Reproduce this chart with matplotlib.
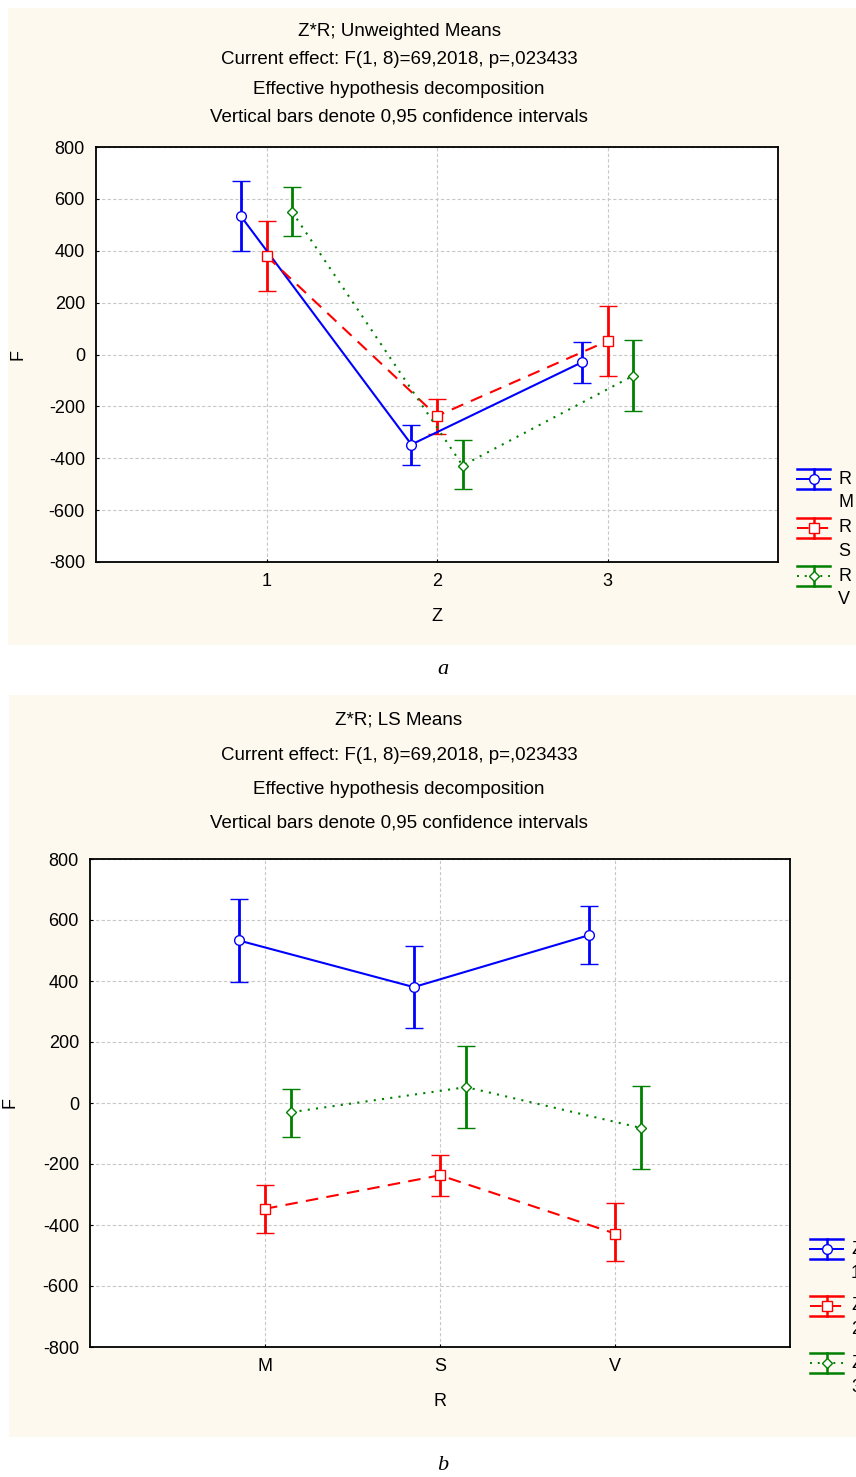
import numpy as np
import matplotlib.pyplot as plt
from matplotlib.patches import Rectangle
from matplotlib.lines import Line2D

plt.rcParams['font.family'] = ['Liberation Sans', 'DejaVu Sans']
plt.rcParams['axes.unicode_minus'] = False

# means and 95% CI bounds, rows = R (M, S, V), cols = Z (1, 2, 3)
r_levels = ['M', 'S', 'V']
z_levels = ['1', '2', '3']
mean_M = [533, -347, -30]
mean_S = [380, -237, 52]
mean_V = [550, -428, -82]
lo_M = [398, -427, -110]
lo_S = [245, -305, -83]
lo_V = [455, -518, -218]
hi_M = [668, -270, 47]
hi_S = [515, -170, 187]
hi_V = [647, -328, 55]

means = np.array([mean_M, mean_S, mean_V])
lows = np.array([lo_M, lo_S, lo_V])
highs = np.array([hi_M, hi_S, hi_V])

colors = ['#0000ff', '#ff0000', '#008000']
styles = ['-', (0, (6, 4)), (0, (1, 3))]
markers = ['o', 's', 'D']
msizes = [7, 7, 5]
offsets = [-0.15, 0.0, 0.15]
bg = '#fdf9ee'

W, H = 856, 1477
fig = plt.figure(figsize=(W / 100, H / 100), dpi=100)


def fx(px):
    return px / W


def fy(py):
    return 1 - py / H


# panel backgrounds
fig.patches.append(Rectangle((fx(8), fy(645)), fx(848), 637 / H, transform=fig.transFigure,
                             facecolor=bg, edgecolor='none', zorder=-5))
fig.patches.append(Rectangle((fx(9), fy(1437)), fx(847), 742 / H, transform=fig.transFigure,
                             facecolor=bg, edgecolor='none', zorder=-5))


def panel(rect, m, lo, hi, ticklabels, xlabel, titles, title_y, leg_x, leg_y, leg_dy, leg_labels,
          ylabel_x):
    ax = fig.add_axes(rect)
    ax.set_zorder(2)
    x = np.arange(1, 4)
    for i in range(3):
        xs = x + offsets[i]
        ax.errorbar(xs, m[i], yerr=[m[i] - lo[i], hi[i] - m[i]], color=colors[i],
                    linestyle=styles[i], linewidth=1.5, elinewidth=2, capsize=6.5, capthick=2,
                    marker=markers[i], markersize=msizes[i], markerfacecolor='white',
                    markeredgecolor=colors[i], markeredgewidth=1.0, zorder=3)
    ax.set_xlim(0, 4)
    ax.set_ylim(-800, 800)
    ax.set_xticks(x)
    ax.set_xticklabels(ticklabels)
    ax.set_yticks(np.arange(-800, 801, 200))
    ax.grid(True, color='#c8c8c8', linestyle=(0, (3, 2)), linewidth=0.8)
    ax.tick_params(direction='in', length=2, labelsize=13, pad=8)
    for s in ax.spines.values():
        s.set_linewidth(1.3)
    ax.set_xlabel(xlabel, fontsize=13, labelpad=13)
    ax.set_ylabel('F', fontsize=13)
    ax.yaxis.set_label_coords(fx(ylabel_x), 0.5, transform=fig.transFigure)
    for t, ty in zip(titles, title_y):
        fig.text(fx(399), fy(ty), t, ha='center', va='center', fontsize=13.5)
    # legend drawn as error-bar glyphs
    for i in range(3):
        cy = leg_y + i * leg_dy
        x0, x1 = leg_x, leg_x + 33
        xm = (x0 + x1) / 2
        for dy in (-10, 10):
            fig.add_artist(Line2D([fx(x0), fx(x1)], [fy(cy + dy), fy(cy + dy)], color=colors[i],
                                  linewidth=1.8))
        fig.add_artist(Line2D([fx(xm), fx(xm)], [fy(cy - 10), fy(cy + 10)], color=colors[i],
                              linewidth=1.8))
        fig.add_artist(Line2D([fx(x0), fx(x1)], [fy(cy), fy(cy)], color=colors[i],
                              linestyle=styles[i], linewidth=1.4))
        fig.add_artist(Line2D([fx(xm)], [fy(cy)], color=colors[i], marker=markers[i],
                              markersize=msizes[i], markerfacecolor='white', linestyle='none'))
        fig.text(fx(x1 + 8), fy(cy), leg_labels[i][0], ha='left', va='center', fontsize=13)
        fig.text(fx(x1 + 8), fy(cy + 24), leg_labels[i][1], ha='left', va='center', fontsize=13)
    return ax


ax_a = panel([fx(96), fy(562), (778 - 96) / W, (562 - 147) / H], means, lows, highs, z_levels, 'Z',
             ['Z*R; Unweighted Means', 'Current effect: F(1, 8)=69,2018, p=,023433',
              'Effective hypothesis decomposition', 'Vertical bars denote 0,95 confidence intervals'],
             [31, 60, 89, 117], 797, 479, 48.5, [('R', l) for l in r_levels], 26)
ax_a.yaxis.set_label_coords(fx(26), fy(354), transform=fig.transFigure)

ax_b = panel([fx(90), fy(1347), (790 - 90) / W, (1347 - 859) / H], means.T, lows.T, highs.T, r_levels, 'R',
             ['Z*R; LS Means', 'Current effect: F(1, 8)=69,2018, p=,023433',
              'Effective hypothesis decomposition', 'Vertical bars denote 0,95 confidence intervals'],
             [720, 755, 789, 823], 810, 1249, 57, [('Z', l) for l in z_levels], 18)
ax_b.yaxis.set_label_coords(fx(18), fy(1103), transform=fig.transFigure)

fig.text(fx(443), fy(670), 'a', ha='center', va='center', fontsize=16, style='italic',
         family='Liberation Serif')
fig.text(fx(443), fy(1466), 'b', ha='center', va='center', fontsize=16, style='italic',
         family='Liberation Serif')

fig.savefig('out.png', dpi=100)
